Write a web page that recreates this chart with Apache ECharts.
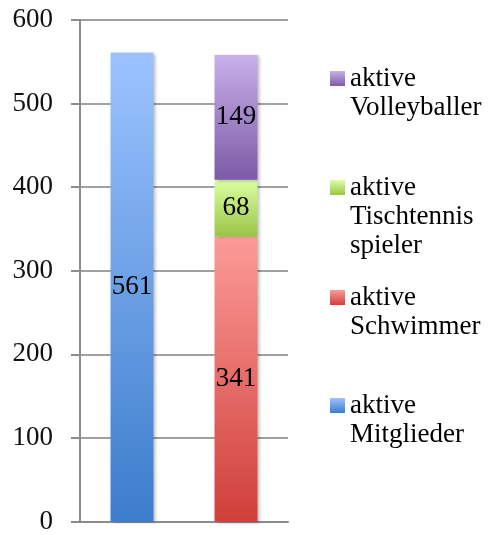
<!DOCTYPE html>
<html><head><meta charset="utf-8">
<script src="https://cdn.jsdelivr.net/npm/echarts@6/dist/echarts.min.js"></script>
<style>html,body{margin:0;padding:0;background:#fff}#c{width:492px;height:535px}</style>
</head><body><div id="c"></div>
<script>
var categories = ['Mitglieder', 'Sparten'];
var seriesNames = ['aktive\nMitglieder', 'aktive\nSchwimmer', 'aktive\nTischtennis\nspieler', 'aktive\nVolleyballer'];
var mitglieder = [561, '-'];
var schwimmer = ['-', 341];
var tischtennis = ['-', 68];
var volleyballer = ['-', 149];
var yTicks = [0, 100, 200, 300, 400, 500, 600];

var FONT = 'Liberation Serif';
var FS = 27, LH = 29;
var topColors = ['#9cc3ff', '#fc9b98', '#dcffa2', '#c8b0ea'];
var bottomColors = ['#3c7dcc', '#d03f3a', '#9ac447', '#7d5aa6'];
function grad(top, bottom, o0, o1) {
  return new echarts.graphic.LinearGradient(0, 0, 0, 1, [{offset: o0, color: top}, {offset: o1, color: bottom}]);
}
var dataSets = [mitglieder, schwimmer, tischtennis, volleyballer];

var series = dataSets.map(function (d, i) {
  return {
    name: seriesNames[i], type: 'bar', stack: 'total', data: d, barWidth: 43,
    itemStyle: {color: grad(topColors[i], bottomColors[i], 0, 1), shadowColor: 'rgba(0,0,0,0.25)', shadowBlur: 3, shadowOffsetX: 2, shadowOffsetY: 1},
    label: {show: true, position: 'inside', color: '#000', fontFamily: FONT, fontSize: FS},
    emphasis: {disabled: true}
  };
});

var iconTops = [398, 290, 180, 71];
var legends = [3, 2, 1, 0].map(function (i) {
  var lines = seriesNames[i].split('\n').length;
  var h = lines * LH;
  var y0 = (LH - 15) / 2, y1 = y0 + 15;
  return {
    data: [{name: seriesNames[i],
      icon: 'path://M0,0L0,0M0,' + y0 + 'H15V' + y1 + 'H0ZM0,' + h + 'L0,' + h,
      itemStyle: {color: grad(topColors[i], bottomColors[i], y0 / h, y1 / h), borderWidth: 0}}],
    orient: 'vertical', left: 330, top: iconTops[i] - y0, padding: 0,
    itemWidth: 15, itemHeight: h, selectedMode: false, symbolKeepAspect: false,
    textStyle: {fontFamily: FONT, fontSize: FS, color: '#000', lineHeight: LH}
  };
});

var chart = echarts.init(document.getElementById('c'), null, {renderer: 'canvas'});
chart.setOption({
  animation: false,
  grid: {left: 80, right: 204, top: 20, bottom: 10, containLabel: false},
  legend: legends,
  xAxis: {type: 'category', data: categories,
    axisLine: {lineStyle: {color: '#8c8c8c', width: 2}}, axisTick: {show: false}, axisLabel: {show: false}},
  yAxis: {type: 'value', min: yTicks[0], max: yTicks[yTicks.length - 1], interval: 100,
    axisLine: {show: true, lineStyle: {color: '#8c8c8c', width: 2}},
    axisTick: {show: true, length: 9, lineStyle: {color: '#8c8c8c', width: 2}},
    splitLine: {lineStyle: {color: '#a0a0a0', width: 2}},
    axisLabel: {fontFamily: FONT, fontSize: FS, color: '#111', margin: 27}},
  series: series
});
</script></body></html>
